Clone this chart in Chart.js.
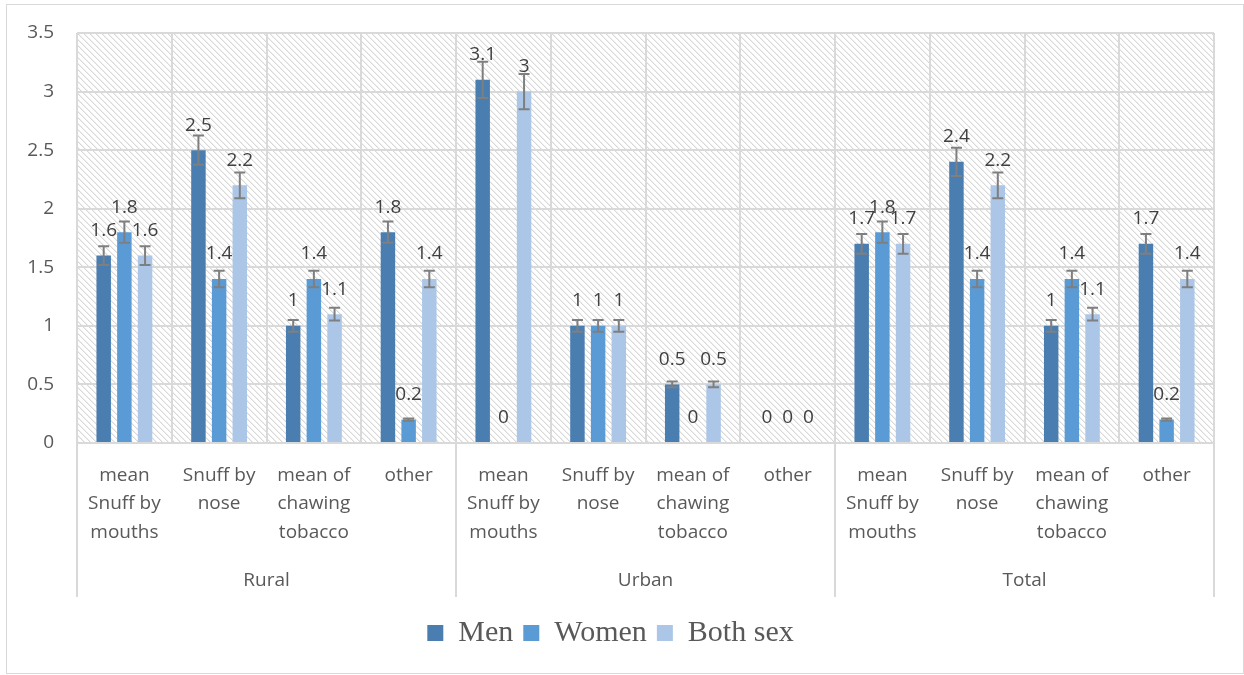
<!DOCTYPE html>
<html>
<head>
<meta charset="utf-8">
<script src="https://cdn.jsdelivr.net/npm/chart.js@4.4.1/dist/chart.umd.min.js"></script>
<style>
  body { margin: 0; background: #fff; }
  #wrap {
    position: absolute; left: 6px; top: 4px;
    width: 1236px; height: 668px;
    border: 1px solid #d9d9d9;
  }
</style>
</head>
<body>
<div id="wrap"><canvas id="chart" width="1236" height="668"></canvas></div>
<script>
// groups and sub categories
const groups = ['Rural', 'Urban', 'Total'];
const subCategories = [
  ['mean', 'Snuff by', 'mouths'],
  ['Snuff by', 'nose'],
  ['mean of', 'chawing', 'tobacco'],
  ['other']
];
const categories = groups.flatMap(() => subCategories);

// series values
const men   = [1.6, 2.5, 1.0, 1.8, 3.1, 1.0, 0.5, 0, 1.7, 2.4, 1.0, 1.7];
const women = [1.8, 1.4, 1.4, 0.2, 0,   1.0, 0,   0, 1.8, 1.4, 1.4, 0.2];
const both  = [1.6, 2.2, 1.1, 1.4, 3.0, 1.0, 0.5, 0, 1.7, 2.2, 1.1, 1.4];

// error bars are +/- 5% of the value
const errorPercent = 0.05;

const gridColor = '#d9d9d9';
const textColor = '#595959';

// hatched plot background
function makeHatch() {
  const c = document.createElement('canvas');
  c.width = 6; c.height = 6;
  const g = c.getContext('2d');
  g.fillStyle = '#fff';
  g.fillRect(0, 0, 6, 6);
  for (let i = 0; i < 6; i++) {
    g.fillStyle = '#d8d8d8';
    g.fillRect(i, i, 1, 1);
    g.fillStyle = '#efefef';
    g.fillRect((i + 1) % 6, i, 1, 1);
  }
  return g.createPattern(c, 'repeat');
}

const hatchPlugin = {
  id: 'hatch',
  beforeDraw(chart) {
    const { ctx, chartArea: a } = chart;
    ctx.save();
    ctx.fillStyle = makeHatch();
    ctx.fillRect(a.left, a.top, a.right - a.left, a.bottom - a.top);
    ctx.restore();
  }
};

// error bars and value labels
const barExtrasPlugin = {
  id: 'barExtras',
  afterDatasetsDraw(chart) {
    const { ctx } = chart;
    const y = chart.scales.y;
    ctx.save();
    chart.data.datasets.forEach((ds, di) => {
      const meta = chart.getDatasetMeta(di);
      meta.data.forEach((bar, i) => {
        const v = ds.data[i];
        if (v > 0) {
          const top = y.getPixelForValue(v * (1 + errorPercent));
          const bot = y.getPixelForValue(v * (1 - errorPercent));
          ctx.strokeStyle = '#7f7f7f';
          ctx.lineWidth = 2;
          ctx.beginPath();
          ctx.moveTo(bar.x, top); ctx.lineTo(bar.x, bot);
          ctx.moveTo(bar.x - 5.5, top); ctx.lineTo(bar.x + 5.5, top);
          ctx.moveTo(bar.x - 5.5, bot); ctx.lineTo(bar.x + 5.5, bot);
          ctx.stroke();
        }
      });
    });
    ctx.font = '19px "Open Sans"';
    ctx.fillStyle = '#404040';
    ctx.textAlign = 'center';
    ctx.textBaseline = 'middle';
    chart.data.datasets.forEach((ds, di) => {
      const meta = chart.getDatasetMeta(di);
      meta.data.forEach((bar, i) => {
        ctx.fillText(String(ds.data[i]), bar.x, bar.y - 25);
      });
    });
    ctx.restore();
  },
  afterDraw(chart) {
    // group separators below the plot
    const { ctx, chartArea: a } = chart;
    const x = chart.scales.x;
    const x2 = chart.scales.x2;
    const per = subCategories.length;
    ctx.save();
    ctx.strokeStyle = gridColor;
    ctx.lineWidth = 2;
    for (let g = 0; g <= groups.length; g++) {
      const idx = g * per;
      let px;
      if (idx === 0) px = x.left;
      else if (idx >= categories.length) px = x.right;
      else px = (x.getPixelForTick(idx - 1) + x.getPixelForTick(idx)) / 2;
      ctx.beginPath();
      ctx.moveTo(px, a.bottom);
      ctx.lineTo(px, x2.bottom - 11);
      ctx.stroke();
    }
    ctx.restore();
  }
};

const ctx = document.getElementById('chart').getContext('2d');

new Chart(ctx, {
  type: 'bar',
  data: {
    labels: categories,
    datasets: [
      { label: 'Men', data: men, backgroundColor: '#4a7eb0' },
      { label: 'Women', data: women, backgroundColor: '#5b9bd5' },
      { label: 'Both sex', data: both, backgroundColor: '#abc6e6' }
    ]
  },
  options: {
    responsive: false,
    animation: false,
    categoryPercentage: 0.655,
    barPercentage: 0.7,
    layout: { padding: { left: 0, top: 28, right: 29, bottom: 15 } },
    scales: {
      x: {
        position: 'bottom',
        weight: 0,
        grid: { color: gridColor, lineWidth: 2, offset: true, drawTicks: false },
        border: { color: gridColor, width: 2 },
        ticks: {
          color: textColor, font: { family: 'Open Sans', size: 19, lineHeight: 1.5 },
          padding: 18, maxRotation: 0, autoSkip: false
        },
        afterFit: (s) => { s.height = 112; }
      },
      x2: {
        type: 'category',
        labels: groups,
        position: 'bottom',
        weight: 1,
        offset: true,
        grid: { display: false, drawTicks: false },
        border: { display: false },
        ticks: {
          color: textColor, font: { family: 'Open Sans', size: 19, lineHeight: 1.5 },
          padding: 11, maxRotation: 0, autoSkip: false
        },
        afterFit: (s) => { s.height = 53; }
      },
      y: {
        min: 0,
        max: 3.5,
        ticks: {
          stepSize: 0.5, color: textColor,
          font: { family: 'Open Sans', size: 19 }, padding: 23,
          callback: (v) => String(v)
        },
        grid: { color: gridColor, lineWidth: 2, drawTicks: false },
        border: { display: false },
        afterFit: (s) => { s.width = 70; s.paddingTop = 0; s.paddingBottom = 0; }
      }
    },
    plugins: {
      legend: {
        position: 'bottom',
        labels: {
          color: textColor,
          font: { family: 'Liberation Serif', size: 30 },
          boxWidth: 16, boxHeight: 16, padding: 10
        }
      },
      tooltip: { enabled: false }
    }
  },
  plugins: [hatchPlugin, barExtrasPlugin]
});
</script>
</body>
</html>
